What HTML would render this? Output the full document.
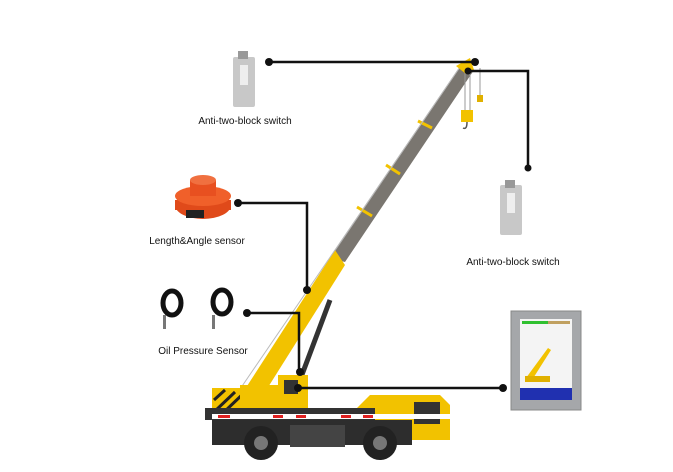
<!DOCTYPE html>
<html><head><meta charset="utf-8"><style>
html,body{margin:0;padding:0;background:#fff;}
svg{display:block;}
text{font-family:"Liberation Sans",sans-serif;font-size:10px;fill:#111;}
</style></head><body>
<svg width="673" height="472" viewBox="0 0 673 472" xmlns="http://www.w3.org/2000/svg">
<!-- boom grey -->
<polygon points="330,258 345,262 474,70 462,64" fill="#7a7670"/>
<line x1="330" y1="258" x2="462" y2="64" stroke="#aaa" stroke-width="1"/>
<g stroke="#f2c200" stroke-width="3">
<line x1="418" y1="121" x2="432" y2="128"/>
<line x1="386" y1="165" x2="400" y2="174"/>
<line x1="357" y1="207" x2="372" y2="216"/>
</g>
<!-- boom yellow -->
<polygon points="238,400 260,400 345,265 335,250" fill="#f2c200"/>
<line x1="236" y1="395" x2="462" y2="64" stroke="#bbb" stroke-width="1"/>
<!-- cylinder -->
<line x1="300" y1="380" x2="330" y2="300" stroke="#333" stroke-width="5"/>
<!-- hooks -->
<line x1="465" y1="68" x2="465" y2="110" stroke="#999"/>
<line x1="470" y1="68" x2="470" y2="110" stroke="#999"/>
<rect x="461" y="110" width="12" height="12" fill="#f2c200"/>
<path d="M467 122 q0 8 -4 6" stroke="#555" fill="none" stroke-width="1.5"/>
<line x1="480" y1="68" x2="480" y2="95" stroke="#999"/>
<rect x="477" y="95" width="6" height="7" fill="#e0b000"/>
<polygon points="456,66 470,58 474,70 466,74" fill="#f2c200"/>
<!-- truck -->
<rect x="212" y="388" width="40" height="28" fill="#f2c200"/>
<g stroke="#222" stroke-width="3"><line x1="214" y1="400" x2="225" y2="390"/><line x1="214" y1="412" x2="235" y2="392"/><line x1="222" y1="414" x2="245" y2="392"/></g>
<rect x="240" y="385" width="60" height="25" fill="#f2c200"/>
<rect x="278" y="375" width="30" height="35" fill="#f2c200"/>
<rect x="284" y="380" width="14" height="14" fill="#333"/>
<polygon points="355,410 370,395 440,395 450,405 450,440 410,440 355,420" fill="#f2c200"/>
<rect x="414" y="402" width="26" height="22" fill="#333"/>
<rect x="205" y="408" width="170" height="12" fill="#333"/>
<rect x="212" y="414" width="240" height="5" fill="#fff"/>
<g fill="#e02020"><rect x="218" y="415" width="12" height="3"/><rect x="273" y="415" width="10" height="3"/><rect x="296" y="415" width="10" height="3"/><rect x="341" y="415" width="10" height="3"/><rect x="363" y="415" width="10" height="3"/></g>
<rect x="212" y="420" width="200" height="25" fill="#2d2d2d"/>
<rect x="290" y="425" width="55" height="22" fill="#444"/>
<circle cx="261" cy="443" r="17" fill="#222"/><circle cx="261" cy="443" r="7" fill="#777"/>
<circle cx="380" cy="443" r="17" fill="#222"/><circle cx="380" cy="443" r="7" fill="#777"/>
<!-- display -->
<rect x="511" y="311" width="70" height="99" fill="#a5a7aa" stroke="#888"/>
<rect x="520" y="319" width="52" height="81" fill="#f4f4f4"/>
<rect x="522" y="321" width="26" height="3" fill="#30c030"/>
<rect x="548" y="321" width="22" height="3" fill="#c0a060"/>
<polygon points="526,378 548,348 551,350 532,380" fill="#f2c200"/>
<rect x="525" y="376" width="25" height="6" fill="#e0b000"/>
<rect x="520" y="388" width="52" height="12" fill="#2030b0"/>
<!-- switch icons -->
<rect x="233" y="57" width="22" height="50" rx="2" fill="#c8c8c8"/>
<rect x="238" y="51" width="10" height="8" fill="#999"/>
<rect x="240" y="65" width="8" height="20" fill="#eee"/>
<rect x="500" y="185" width="22" height="50" rx="2" fill="#c8c8c8"/>
<rect x="505" y="180" width="10" height="8" fill="#999"/>
<rect x="507" y="193" width="8" height="20" fill="#eee"/>
<!-- length sensor -->
<ellipse cx="203" cy="205" rx="28" ry="14" fill="#e04a1a"/>
<rect x="175" y="200" width="56" height="10" fill="#e04a1a"/>
<ellipse cx="203" cy="196" rx="28" ry="10" fill="#f0602a"/>
<rect x="190" y="180" width="26" height="16" fill="#e85020"/>
<ellipse cx="203" cy="180" rx="13" ry="5" fill="#f07040"/>
<rect x="186" y="210" width="18" height="8" fill="#222"/>
<!-- oil sensors -->
<g fill="none" stroke="#111" stroke-width="5">
<ellipse cx="172" cy="303" rx="9" ry="12"/><ellipse cx="222" cy="302" rx="9" ry="12"/>
</g>
<rect x="163" y="315" width="3" height="14" fill="#777"/><rect x="212" y="315" width="3" height="14" fill="#777"/>
<!-- connectors -->
<g stroke="#111" stroke-width="2.5" fill="none">
<polyline points="269,62 475,62"/>
<polyline points="468,71 528,71 528,168"/>
<polyline points="238,203 307,203 307,290"/>
<polyline points="247,313 299,313 299,372"/>
<polyline points="298,388 503,388"/>
</g>
<g fill="#111">
<circle cx="269" cy="62" r="4"/><circle cx="475" cy="62" r="4"/><circle cx="468" cy="71" r="3.5"/>
<circle cx="528" cy="168" r="3.5"/><circle cx="238" cy="203" r="4"/><circle cx="307" cy="290" r="4"/>
<circle cx="247" cy="313" r="4"/><circle cx="300" cy="372" r="4"/><circle cx="298" cy="388" r="4"/><circle cx="503" cy="388" r="4"/>
</g>
<text x="245" y="124" text-anchor="middle">Anti-two-block switch</text>
<text x="197" y="244" text-anchor="middle">Length&amp;Angle sensor</text>
<text x="203" y="354" text-anchor="middle">Oil Pressure Sensor</text>
<text x="513" y="265" text-anchor="middle">Anti-two-block switch</text>
</svg>
</body></html>
